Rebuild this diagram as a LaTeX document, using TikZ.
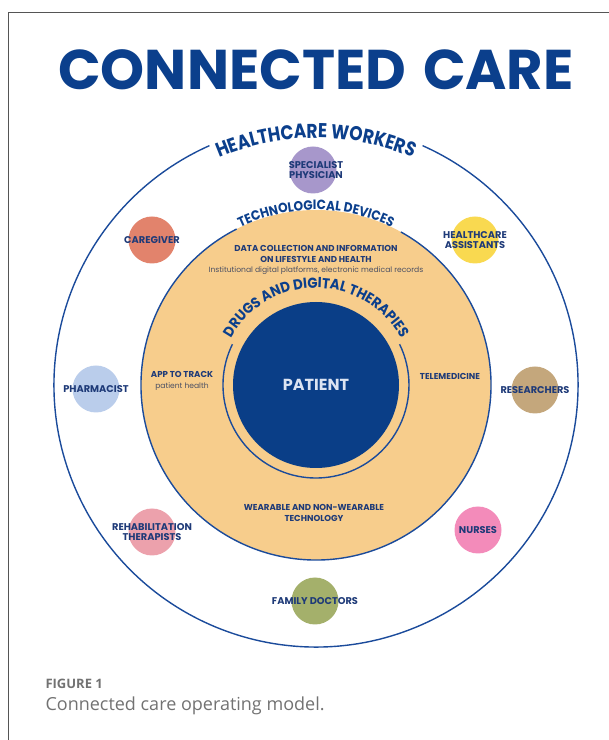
\documentclass[tikz,border=0pt]{standalone}
\usepackage{fontspec}
\setmainfont{Poppins}
\newfontfamily\captionfont{Open Sans}
\usetikzlibrary{decorations.text}
\definecolor{navy}{HTML}{0B3F8C}
\definecolor{ringblue}{HTML}{1B4B9B}
\definecolor{labelblue}{HTML}{1E3A78}
\definecolor{subgray}{HTML}{4A4F63}
\definecolor{layerfill}{HTML}{F7CD8C}
\definecolor{patientblue}{HTML}{0A3E87}
\definecolor{patienttext}{HTML}{DCE4F2}
\definecolor{captiongray}{HTML}{727272}
\definecolor{framegray}{HTML}{555555}
\definecolor{physicianfill}{HTML}{A797CB}
\definecolor{caregiverfill}{HTML}{E2836C}
\definecolor{assistantfill}{HTML}{F9D950}
\definecolor{pharmacistfill}{HTML}{BACDEB}
\definecolor{researcherfill}{HTML}{C4A77C}
\definecolor{therapistfill}{HTML}{ECA1AC}
\definecolor{nursefill}{HTML}{F38BBA}
\definecolor{familyfill}{HTML}{A4B06B}
\newcommand\bigcurve{\bfseries\fontsize{20}{20}\selectfont\addfontfeatures{FakeStretch=0.85}\color{navy}}
\newcommand\midcurve{\bfseries\fontsize{13.5}{14}\selectfont\addfontfeatures{FakeStretch=0.9}\color{navy}}
\newcommand\drugcurve{\bfseries\fontsize{14.5}{15}\selectfont\addfontfeatures{FakeStretch=0.92}\color{navy}}
\tikzset{
    ringline/.style={draw=ringblue,line width=1.4pt},
    worker/.style={circle,minimum size=47pt,inner sep=0pt},
    workertext/.style={font=\bfseries\fontsize{9.8}{10.8}\selectfont,text=labelblue,align=center,inner sep=0pt},
    layertext/.style={font=\bfseries\fontsize{8.6}{10.2}\selectfont,text=labelblue,align=center,inner sep=0pt},
    curvetext/.style={decorate,decoration={text along path,text align=center,text={#1}}}
}

\begin{document}
\begin{tikzpicture}[x=1pt,y=1pt]
    \useasboundingbox (0,0) rectangle (609,740);
    \draw[framegray,line width=1pt] (8,0) -- (8,727) -- (609,727);
    \node[anchor=base,font=\bfseries\fontsize{56}{60}\selectfont,text=navy] (title) at (316,650) {CONNECTED\hspace{0.3em}CARE};

    \coordinate (hub) at (316,355);
    \node[circle,fill=layerfill,minimum size=350pt,inner sep=0pt] (devices) at (hub) {};
    \draw[ringline] (hub) ++(114:262) arc[start angle=114,end angle=426,radius=262];
    \draw[ringline] (hub) ++(117:175) arc[start angle=117,end angle=421,radius=175];
    \draw[ringline] (hub) ++(154:93) arc[start angle=154,end angle=386,radius=93];
    \node[circle,fill=patientblue,minimum size=166pt,inner sep=0pt,text=patienttext,font=\bfseries\fontsize{16}{16}\selectfont] (patient) at (hub) {PATIENT};

    \path[curvetext={|\bigcurve|HEALTHCARE WORKERS}] (hub) ++(150:247) arc[start angle=150,end angle=30,radius=247];
    \path[curvetext={|\midcurve|TECHNOLOGICAL DEVICES}] (hub) ++(150:175) arc[start angle=150,end angle=30,radius=175];
    \path[curvetext={|\drugcurve|DRUGS AND DIGITAL THERAPIES}] (hub) ++(175:97) arc[start angle=175,end angle=5,radius=97];

    \node[layertext] (data) at (316,480) {DATA COLLECTION AND INFORMATION\\ON LIFESTYLE AND HEALTH\\{\mdseries\fontsize{7.6}{9}\selectfont\color{subgray}Institutional digital platforms, electronic medical records}};
    \node[layertext] (app) at (182,359) {APP TO TRACK\\{\mdseries\fontsize{7.6}{9}\selectfont\color{subgray}patient health}};
    \node[layertext] (tele) at (450,364) {TELEMEDICINE};
    \node[layertext] (wear) at (314,227) {WEARABLE AND NON-WEARABLE\\TECHNOLOGY};

    \node[worker,fill=physicianfill,label={[workertext,xshift=3pt]center:{SPECIALIST\\PHYSICIAN}}] (physician) at (313,570) {};
    \node[worker,fill=caregiverfill,label={[workertext]center:CAREGIVER}] (caregiver) at (152,500) {};
    \node[worker,fill=assistantfill,label={[workertext]center:{HEALTHCARE\\ASSISTANTS}}] (assistants) at (475,500) {};
    \node[worker,fill=pharmacistfill,label={[workertext]center:PHARMACIST}] (pharmacist) at (96,351) {};
    \node[worker,fill=researcherfill,label={[workertext]center:RESEARCHERS}] (researchers) at (535,350) {};
    \node[worker,fill=therapistfill,label={[workertext]center:{REHABILITATION\\THERAPISTS}}] (therapists) at (152,208) {};
    \node[worker,fill=nursefill,label={[workertext]center:NURSES}] (nurses) at (478,210) {};
    \node[worker,fill=familyfill,label={[workertext]center:{FAMILY DOCTORS}}] (family) at (315,139) {};

    \node[anchor=base west,font=\captionfont\bfseries\fontsize{13}{14}\selectfont,text=captiongray] (fignum) at (42,52) {FIGURE 1};
    \node[anchor=base west,font=\captionfont\fontsize{18}{20}\selectfont,text=captiongray] (figcap) at (42,29) {Connected care operating model.};
\end{tikzpicture}
\end{document}
